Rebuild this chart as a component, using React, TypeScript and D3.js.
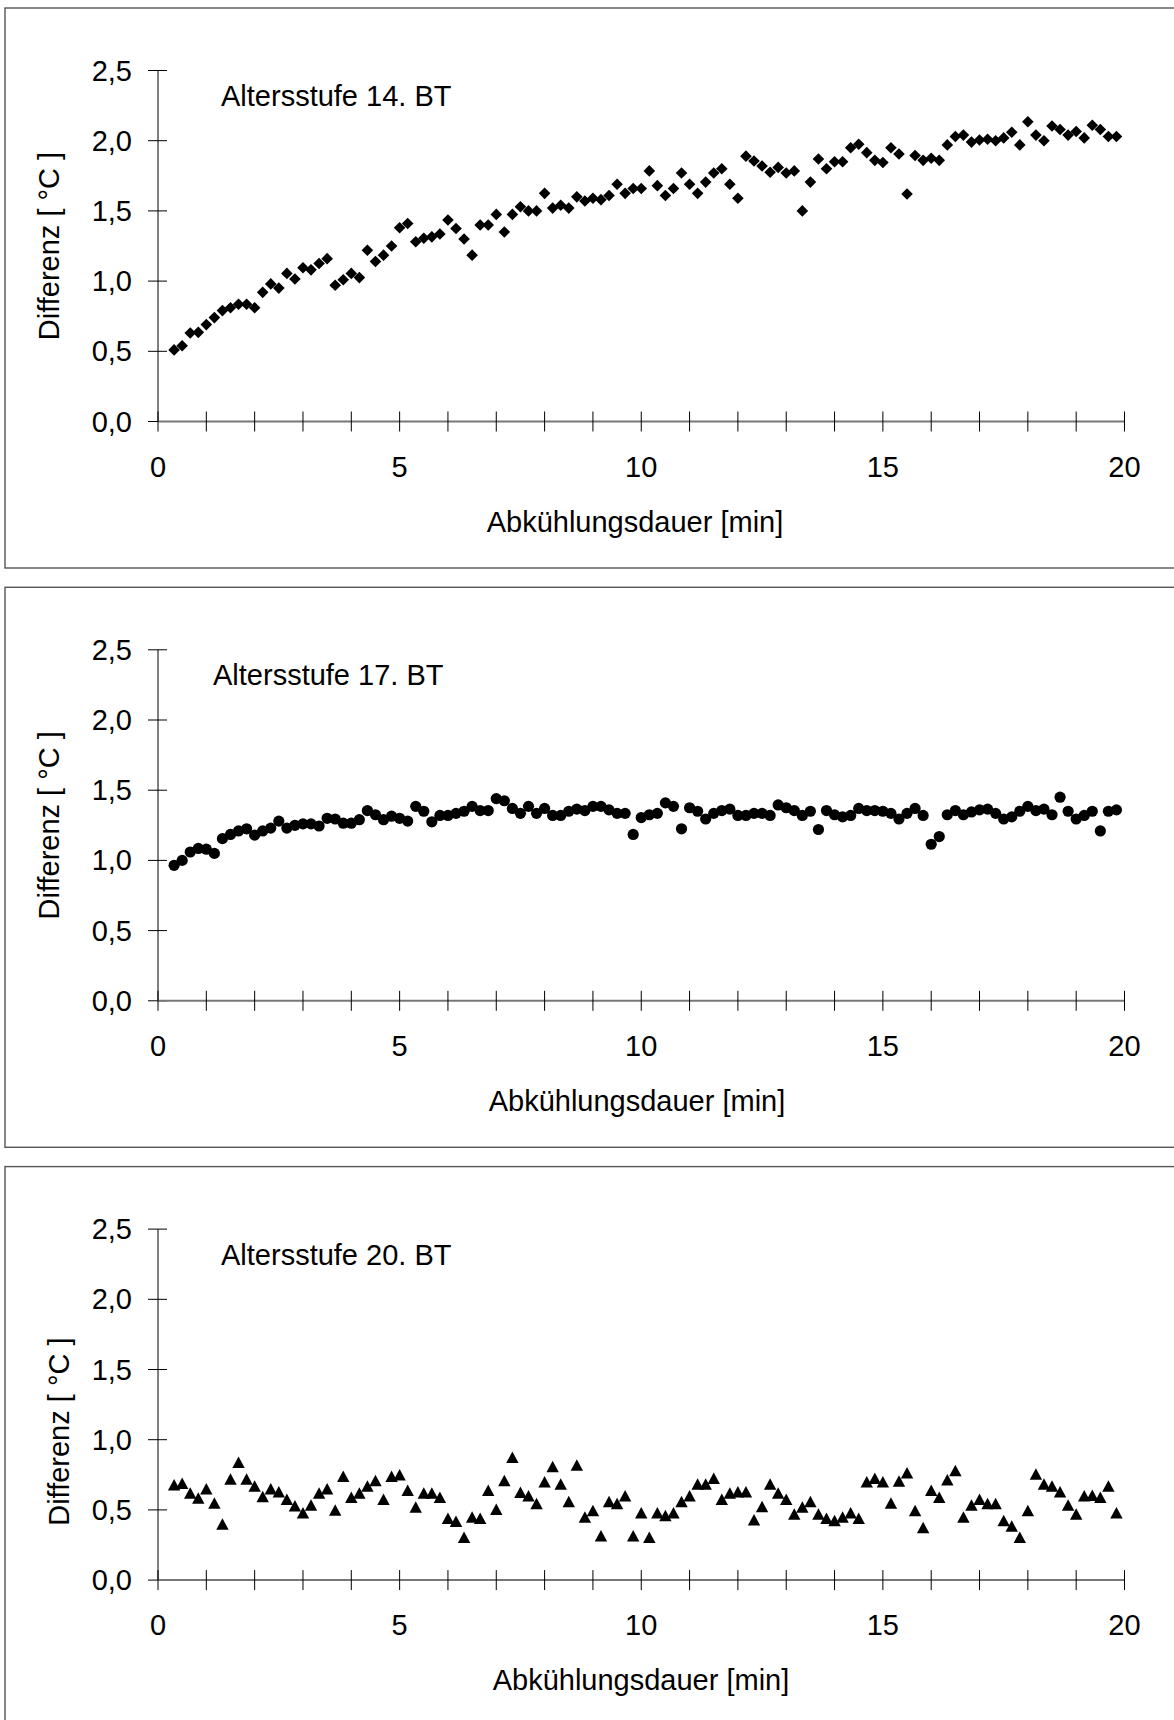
import React from "react";
import * as d3 from "d3";

// sampling times in seconds
const timesSec = [
  20, 30, 40, 50, 60, 70, 80, 90, 100, 110, 120, 130, 140, 150, 160, 170, 180, 190, 200, 210,
  220, 230, 240, 250, 260, 270, 280, 290, 300, 310, 320, 330, 340, 350, 360, 370, 380, 390, 400, 410,
  420, 430, 440, 450, 460, 470, 480, 490, 500, 510, 520, 530, 540, 550, 560, 570, 580, 590, 600, 610,
  620, 630, 640, 650, 660, 670, 680, 690, 700, 710, 720, 730, 740, 750, 760, 770, 780, 790, 800, 810,
  820, 830, 840, 850, 860, 870, 880, 890, 900, 910, 920, 930, 940, 950, 960, 970, 980, 990, 1000, 1010,
  1020, 1030, 1040, 1050, 1060, 1070, 1080, 1090, 1100, 1110, 1120, 1130, 1140, 1150, 1160, 1170, 1180, 1190,
];

const bt14 = [
  0.51, 0.54, 0.63, 0.635, 0.69, 0.74, 0.79, 0.81, 0.835, 0.835,
  0.81, 0.92, 0.98, 0.95, 1.055, 1.015, 1.095, 1.08, 1.125, 1.16,
  0.97, 1.01, 1.055, 1.025, 1.22, 1.14, 1.185, 1.25, 1.38, 1.41,
  1.28, 1.305, 1.315, 1.335, 1.435, 1.375, 1.3, 1.185, 1.4, 1.4,
  1.475, 1.35, 1.475, 1.53, 1.5, 1.5, 1.625, 1.52, 1.54, 1.52,
  1.6, 1.57, 1.59, 1.58, 1.61, 1.69, 1.625, 1.66, 1.66, 1.785,
  1.68, 1.61, 1.66, 1.77, 1.69, 1.625, 1.705, 1.77, 1.8, 1.69,
  1.59, 1.89, 1.855, 1.82, 1.775, 1.81, 1.77, 1.785, 1.5, 1.705,
  1.87, 1.8, 1.85, 1.85, 1.95, 1.975, 1.915, 1.86, 1.845, 1.95,
  1.905, 1.62, 1.895, 1.86, 1.875, 1.86, 1.97, 2.03, 2.04, 1.99,
  2.005, 2.01, 2.0, 2.02, 2.06, 1.97, 2.135, 2.04, 2.0, 2.105,
  2.08, 2.04, 2.065, 2.02, 2.11, 2.08, 2.03, 2.03,
];

const bt17 = [
  0.965, 1.0, 1.06, 1.085, 1.08, 1.05, 1.155, 1.185, 1.21, 1.225,
  1.18, 1.21, 1.23, 1.28, 1.23, 1.25, 1.26, 1.26, 1.245, 1.3,
  1.295, 1.265, 1.265, 1.29, 1.355, 1.325, 1.29, 1.315, 1.3, 1.28,
  1.385, 1.35, 1.275, 1.32, 1.32, 1.335, 1.35, 1.385, 1.355, 1.355,
  1.44, 1.425, 1.37, 1.335, 1.385, 1.335, 1.37, 1.32, 1.32, 1.35,
  1.365, 1.355, 1.385, 1.385, 1.36, 1.335, 1.335, 1.185, 1.305, 1.325,
  1.335, 1.41, 1.385, 1.225, 1.375, 1.35, 1.295, 1.335, 1.355, 1.365,
  1.32, 1.32, 1.335, 1.335, 1.32, 1.395, 1.375, 1.355, 1.32, 1.35,
  1.22, 1.355, 1.325, 1.31, 1.32, 1.37, 1.355, 1.355, 1.35, 1.335,
  1.295, 1.335, 1.37, 1.32, 1.115, 1.17, 1.325, 1.355, 1.325, 1.345,
  1.36, 1.365, 1.335, 1.295, 1.31, 1.35, 1.385, 1.355, 1.365, 1.325,
  1.45, 1.35, 1.295, 1.32, 1.35, 1.21, 1.35, 1.36,
];

const bt20 = [
  0.68, 0.69, 0.62, 0.585, 0.65, 0.55, 0.4, 0.72, 0.84, 0.72,
  0.67, 0.595, 0.65, 0.63, 0.575, 0.53, 0.48, 0.535, 0.62, 0.65,
  0.5, 0.74, 0.59, 0.62, 0.67, 0.71, 0.575, 0.74, 0.75, 0.64,
  0.52, 0.62, 0.62, 0.59, 0.44, 0.42, 0.305, 0.45, 0.44, 0.64,
  0.505, 0.71, 0.875, 0.625, 0.6, 0.545, 0.7, 0.81, 0.685, 0.56,
  0.82, 0.45, 0.495, 0.315, 0.56, 0.545, 0.6, 0.315, 0.48, 0.305,
  0.48, 0.46, 0.48, 0.56, 0.6, 0.685, 0.685, 0.725, 0.575, 0.62,
  0.63, 0.63, 0.43, 0.525, 0.685, 0.62, 0.575, 0.47, 0.52, 0.56,
  0.47, 0.44, 0.425, 0.45, 0.48, 0.44, 0.7, 0.725, 0.7, 0.55,
  0.705, 0.765, 0.495, 0.375, 0.64, 0.59, 0.715, 0.78, 0.45, 0.535,
  0.575, 0.545, 0.545, 0.425, 0.385, 0.305, 0.495, 0.755, 0.685, 0.67,
  0.63, 0.535, 0.47, 0.6, 0.605, 0.59, 0.67, 0.48,
];

const panelTitles = ["Altersstufe 14. BT", "Altersstufe 17. BT", "Altersstufe 20. BT"];
const panelSeries = [bt14, bt17, bt20];
const panelMarkers = ["diamond", "circle", "triangle"];
const yTicks = [0, 0.5, 1.0, 1.5, 2.0, 2.5];
const xMajorTicks = [0, 5, 10, 15, 20];
const xMinorTicks = d3.range(0, 21, 1);
const xTitle = "Abkühlungsdauer [min]";
const yTitle = "Differenz [ °C ]";

const W = 1174;
const H = 1720;
const FONT = "'Liberation Sans', Arial, Helvetica, sans-serif";
const FS = 29;

// per-panel text placement
const titleXs = [221, 213, 221];
const xTitleXs = [635, 637, 641];
const yTitleXs = [59, 59, 69];
const yTitleDy = [0, 0, 27];

function Marker({ kind, x, y }: { kind: string; x: number; y: number }) {
  if (kind === "diamond") {
    const r = 5.8;
    return <path d={`M${x},${y - r}L${x + r},${y}L${x},${y + r}L${x - r},${y}Z`} fill="#000" />;
  }
  if (kind === "circle") {
    return <circle cx={x} cy={y} r={5.6} fill="#000" />;
  }
  const w = 12.4;
  const h = 11.5;
  return (
    <path
      d={`M${x},${y - h / 2}L${x + w / 2},${y + h / 2}L${x - w / 2},${y + h / 2}Z`}
      fill="#000"
    />
  );
}

function Panel({ k }: { k: number }) {
  const off = 579.3 * k;
  const x = d3.scaleLinear().domain([0, 20]).range([158, 1124.5]);
  const y = d3.scaleLinear().domain([0, 2.5]).range([421.5 + off, 70.5 + off]);
  const data = panelSeries[k];
  const title = panelTitles[k];
  return (
    <g>
      <rect x={5} y={8 + off} width={1200} height={560} fill="#fff" stroke="#555" strokeWidth={1.4} />
      {/* y axis */}
      <line x1={x(0)} x2={x(0)} y1={y(0)} y2={y(2.5)} stroke="#000" strokeWidth={1} />
      {yTicks.map((t) => (
        <g key={"y" + t}>
          <line x1={x(0) - 10} x2={x(0) + 9} y1={y(t)} y2={y(t)} stroke="#000" strokeWidth={1} />
          <text
            x={132}
            y={y(t) + 10}
            textAnchor="end"
            fontFamily={FONT}
            fontSize={FS}
            fill="#000"
          >
            {d3.format(".1f")(t).replace(".", ",")}
          </text>
        </g>
      ))}
      {/* x axis */}
      <line x1={x(0)} x2={x(20)} y1={y(0)} y2={y(0)} stroke="#777" strokeWidth={2} />
      {xMinorTicks.map((t) => (
        <line key={"xt" + t} x1={x(t)} x2={x(t)} y1={y(0) - 10} y2={y(0) + 10} stroke="#000" strokeWidth={1} />
      ))}
      {xMajorTicks.map((t) => (
        <text
          key={"xl" + t}
          x={x(t)}
          y={y(0) + 55}
          textAnchor="middle"
          fontFamily={FONT}
          fontSize={FS}
          fill="#000"
        >
          {t}
        </text>
      ))}
      <text x={xTitleXs[k]} y={y(0) + 110} textAnchor="middle" fontFamily={FONT} fontSize={FS} fill="#000">
        {xTitle}
      </text>
      <text
        transform={`translate(${yTitleXs[k]},${(y(0) + y(2.5)) / 2 + yTitleDy[k]}) rotate(-90)`}
        textAnchor="middle"
        fontFamily={FONT}
        fontSize={FS}
        fill="#000"
      >
        {yTitle}
      </text>
      <text x={titleXs[k]} y={106 + off} fontFamily={FONT} fontSize={FS} fill="#000">
        {title}
      </text>
      {data.map((v, i) => (
        <Marker key={i} kind={panelMarkers[k]} x={x(timesSec[i] / 60)} y={y(v)} />
      ))}
    </g>
  );
}

export default function App() {
  return (
    <svg
      width={W}
      height={H}
      viewBox={`0 0 ${W} ${H}`}
      style={{ position: "absolute", left: 0, top: 0, display: "block", background: "#fff" }}
    >
      <rect x={0} y={0} width={W} height={H} fill="#fff" />
      {[0, 1, 2].map((k) => (
        <Panel key={k} k={k} />
      ))}
    </svg>
  );
}
